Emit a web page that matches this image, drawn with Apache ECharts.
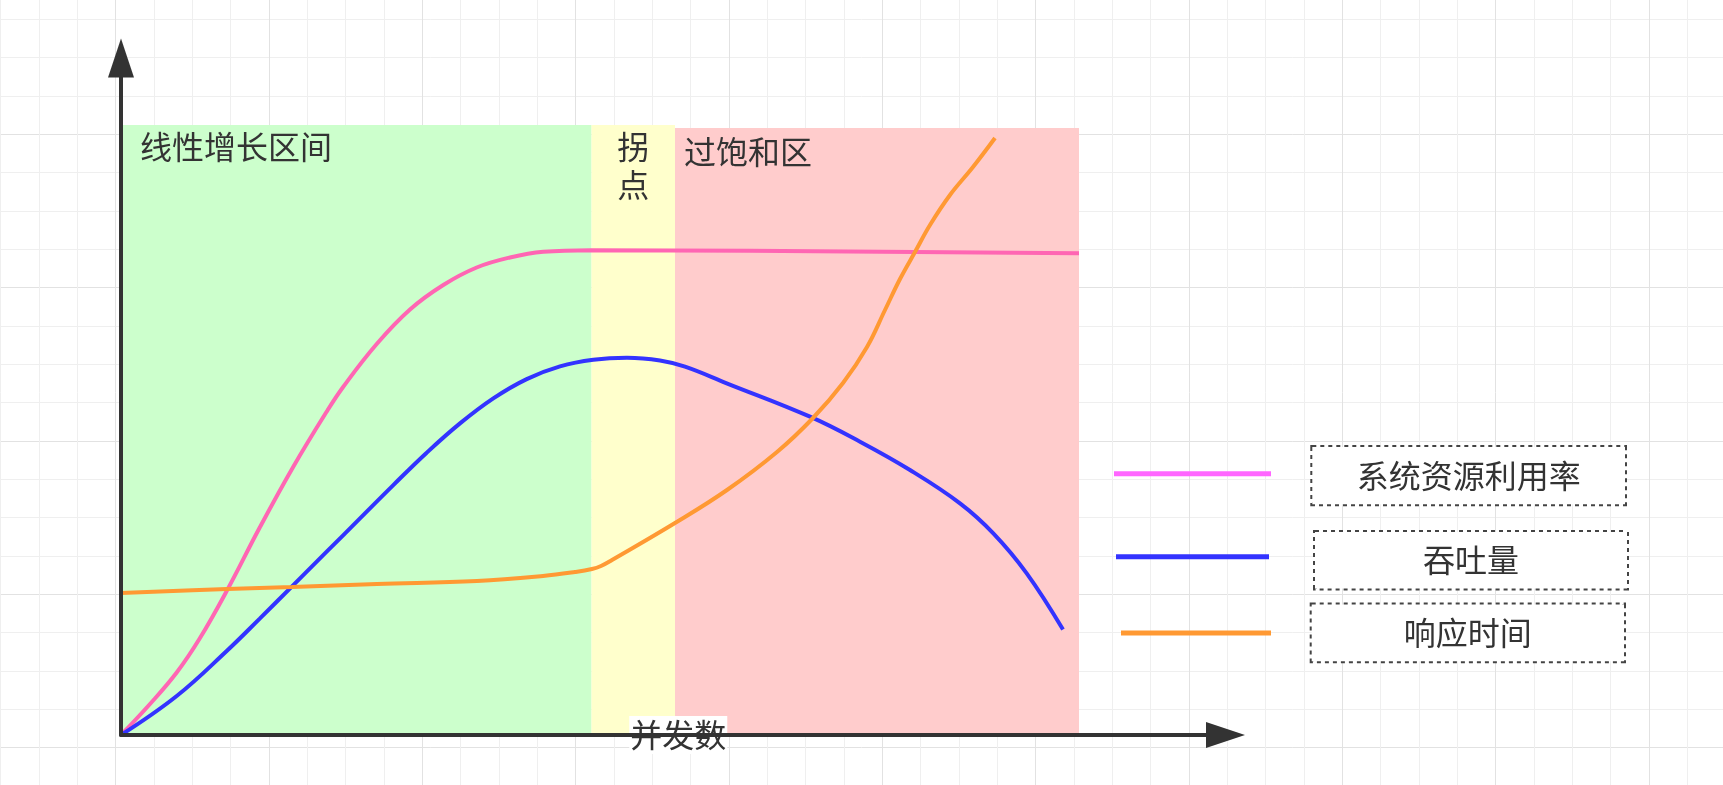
<!DOCTYPE html>
<html>
<head>
<meta charset="utf-8">
<script src="https://cdn.jsdelivr.net/npm/echarts@6/dist/echarts.min.js"></script>
<style>
html,body{margin:0;padding:0;background:#ffffff;}
#chart{width:1723px;height:785px;}
</style>
</head>
<body>
<div id="chart"></div>
<script>
// ---------------- data ----------------
const seriesNames = ['系统资源利用率', '吞吐量', '响应时间'];

// 系统资源利用率
const pinkX = [0, 2.9, 5.57, 7.9, 10.57, 13.9, 17.23, 20.57, 22.23, 25.57, 28.9, 32.23, 35.57, 38.9, 42.23, 47.0, 95.8];
const pinkY = [0, 3.1, 6.25, 9.7, 14.4, 20.8, 26.83, 32.34, 34.83, 39.1, 42.55, 45.0, 46.75, 47.75, 48.32, 48.48, 48.17];

// 吞吐量
const blueX = [0, 5.57, 10.57, 13.9, 17.23, 20.57, 23.9, 27.23, 30.57, 33.9, 37.23, 40.57, 43.9, 47.23, 50.6, 53.9, 56.4, 60.57, 68.9, 73.9, 78.9, 83.9, 87.23, 90.57, 94.2];
const blueY = [0, 3.9, 8.4, 11.66, 14.99, 18.33, 21.66, 24.99, 28.23, 31.16, 33.66, 35.59, 36.86, 37.52, 37.72, 37.45, 36.83, 35.17, 31.83, 29.33, 26.5, 23.17, 20.17, 16.17, 10.55];

// 响应时间
const orangeX = [0, 10.6, 17.1, 25.6, 35.6, 42.2, 45.4, 47.1, 48.0, 49.1, 55.4, 60.6, 65.6, 69.2, 72.2, 74.6, 76.4, 77.9, 79.4, 80.9, 82.9, 85.2, 87.4];
const orangeY = [14.2, 14.6, 14.8, 15.1, 15.4, 15.9, 16.3, 16.6, 16.9, 17.5, 21.2, 24.5, 28.3, 31.7, 35.2, 38.8, 42.5, 45.6, 48.3, 51.0, 54.0, 56.8, 59.7];

// regions
const regionNames = ['线性增长区间', '拐\n点', '过饱和区'];
const regionStart = [0, 47.05, 55.4];
const regionEnd = [47.05, 55.4, 95.8];
const regionTop = [61.0, 61.0, 60.7];

const xAxisName = '并发数';

// ---------------- styles ----------------
const FONT = "'Noto Sans CJK SC','Noto Sans',sans-serif";
const TEXT = '#333333';
const lineColors = ['#FF66B3', '#3333FF', '#FF9933'];
const legendColors = ['#FF66FF', '#3333FF', '#FF9933'];
const regionColors = ['#CCFFCC', '#FFFFCC', '#FFCCCC'];
const regionLabelPos = [[19, 3], [41.75, 2.5], [9, 5]];
const regionLabelAlign = ['left', 'center', 'left'];

function pairs(xs, ys) { return xs.map((x, i) => [x, ys[i]]); }

function lineSeries(i, xs, ys, extra) {
  return Object.assign({
    type: 'line',
    name: seriesNames[i],
    data: pairs(xs, ys),
    xAxisIndex: 0, yAxisIndex: 0,
    showSymbol: false, symbol: 'none',
    smooth: 0.4,
    silent: true,
    z: 2,
    lineStyle: { color: lineColors[i], width: 4 },
    itemStyle: { color: lineColors[i] },
    emphasis: { disabled: true }
  }, extra || {});
}

// legend: [left, top, iconWidth, gapToBox, boxWidth, boxHeight, lineHeight, boxVAlign]
const legendLayout = [
  [1114, 443.2, 157, 41.3, 312.7, 57.3, 61.0, 'bottom'],
  [1116, 524.9, 153, 46.0, 312.0, 56.6, 63.6, 'bottom'],
  [1121, 602.6, 150, 40.7, 312.3, 56.6, 56.6, 'middle']
];
function makeLegend(i) {
  const L = legendLayout[i];
  return {
    data: [{ name: seriesNames[i], itemStyle: { color: legendColors[i], borderWidth: 0 } }],
    left: L[0], top: L[1], padding: 0,
    icon: 'rect', itemWidth: L[2], itemHeight: 5,
    selectedMode: false,
    formatter: '{sp| }{b|{name}}',
    textStyle: {
      rich: {
        sp: { width: L[3] - 5, height: L[6], backgroundColor: 'rgba(255,255,255,0)', fontSize: 12 },
        b: {
          width: L[4], height: L[5], align: 'center', verticalAlign: L[7],
          fontSize: 32, fontFamily: FONT, color: TEXT,
          borderColor: '#444444', borderWidth: 2, borderType: 'dotted',
          backgroundColor: '#ffffff'
        }
      }
    }
  };
}

const markData = regionNames.map((n, i) => [
  {
    name: n, xAxis: regionStart[i], yAxis: 0,
    itemStyle: { color: regionColors[i], opacity: 1, borderWidth: 0 },
    label: {
      show: true, position: regionLabelPos[i], align: regionLabelAlign[i],
      fontSize: 32, lineHeight: 38, fontFamily: FONT, color: TEXT
    }
  },
  { xAxis: regionEnd[i], yAxis: regionTop[i] }
]);

const chart = echarts.init(document.getElementById('chart'), null, { renderer: 'canvas' });
chart.setOption({
  animation: false,
  backgroundColor: '#ffffff',
  grid: [
    { left: 121, right: 497.5, top: 58, bottom: 50, outerBoundsMode: 'none', containLabel: false },
    { left: -37.67, top: -19.0, width: 1840, height: 920, outerBoundsMode: 'none', containLabel: false }
  ],
  xAxis: [
    {
      type: 'value', gridIndex: 0, min: 0, max: 110.45, z: 3,
      name: '{a|' + xAxisName + '}', nameLocation: 'middle', nameGap: 0,
      nameTextStyle: {
        verticalAlign: 'middle', align: 'center', padding: [0, 0, 0, 10],
        rich: {
          a: { fontSize: 32, fontFamily: FONT, color: TEXT, backgroundColor: '#ffffff', padding: [3, 1, 3, 1] }
        }
      },
      axisLine: { show: true, symbol: ['none', 'triangle'], symbolSize: [26, 39], lineStyle: { color: '#333333', width: 4 } },
      axisTick: { show: false }, axisLabel: { show: false }, splitLine: { show: false }
    },
    {
      type: 'value', gridIndex: 1, min: 0, max: 5520, interval: 460,
      axisLine: { show: false }, axisTick: { show: false }, axisLabel: { show: false },
      splitLine: { show: true, lineStyle: { color: '#e2e2e2', width: 1 } },
      minorTick: { show: false, splitNumber: 4 },
      minorSplitLine: { show: true, lineStyle: { color: '#efefef', width: 1 } }
    }
  ],
  yAxis: [
    {
      type: 'value', gridIndex: 0, min: 0, max: 67.7, z: 3,
      axisLine: { show: true, symbol: ['none', 'triangle'], symbolSize: [26, 39], lineStyle: { color: '#333333', width: 4 } },
      axisTick: { show: false }, axisLabel: { show: false }, splitLine: { show: false }
    },
    {
      type: 'value', gridIndex: 1, inverse: true, min: 0, max: 2760, interval: 460,
      axisLine: { show: false }, axisTick: { show: false }, axisLabel: { show: false },
      splitLine: { show: true, lineStyle: { color: '#e2e2e2', width: 1 } },
      minorTick: { show: false, splitNumber: 4 },
      minorSplitLine: { show: true, lineStyle: { color: '#efefef', width: 1 } }
    }
  ],
  legend: [makeLegend(0), makeLegend(1), makeLegend(2)],
  series: [
    lineSeries(0, pinkX, pinkY, {
      markArea: { silent: true, z: 1, data: markData }
    }),
    lineSeries(1, blueX, blueY),
    lineSeries(2, orangeX, orangeY)
  ]
});
</script>
</body>
</html>
